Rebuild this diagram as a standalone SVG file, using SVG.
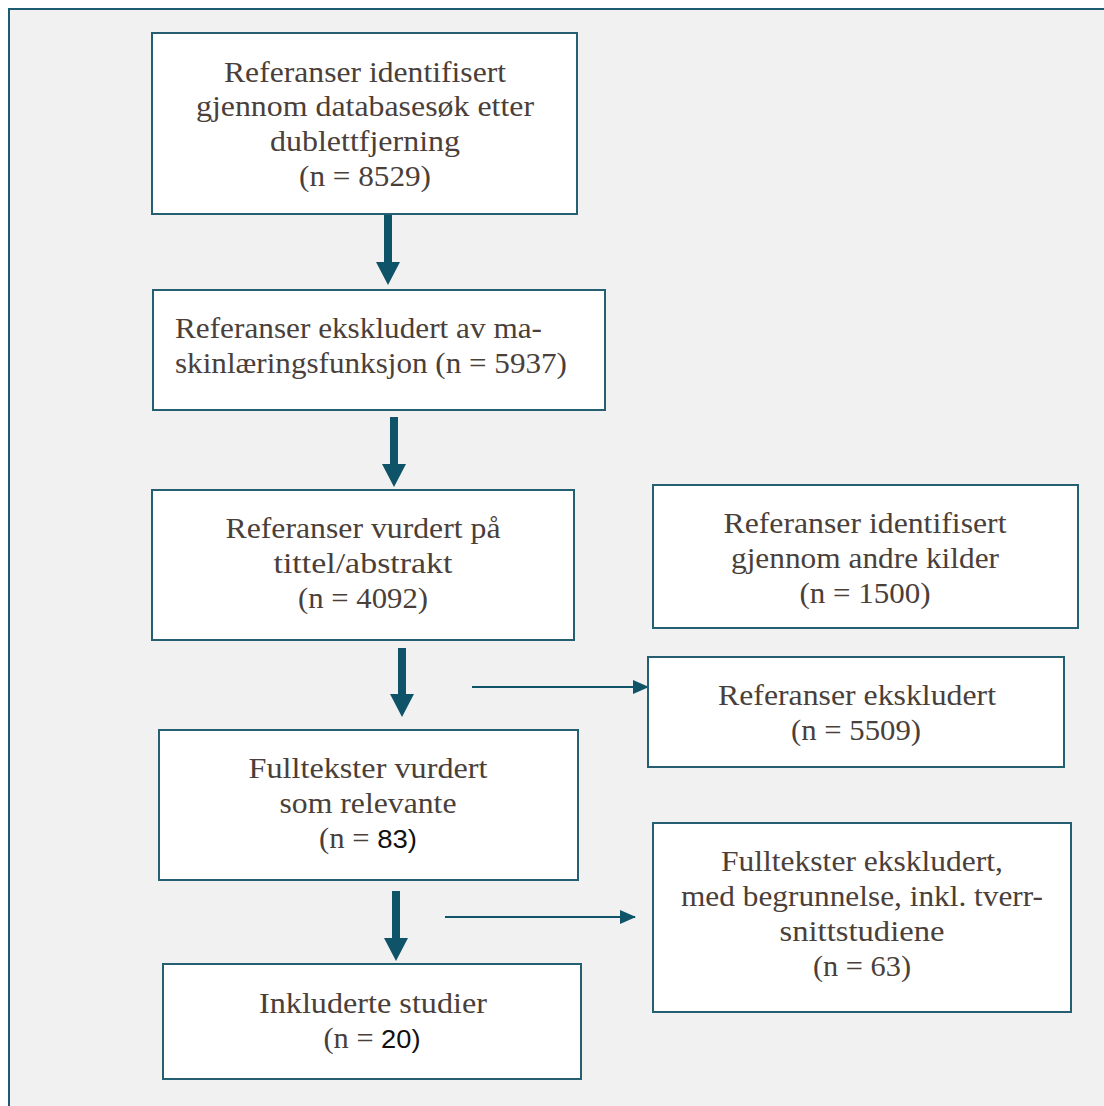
<svg xmlns="http://www.w3.org/2000/svg" width="1104" height="1106" viewBox="0 0 1104 1106">
<defs>
<style>
.box{fill:#ffffff;stroke:#255f72;stroke-width:2}
.t{font-family:"Liberation Serif","DejaVu Serif",serif;font-size:29px;fill:#4a3f3a;text-anchor:middle}
.s{font-family:"Liberation Sans","Open Sans",sans-serif;font-size:26px;fill:#111111}
.thick{fill:#0f5369}
.thin{stroke:#0f5369;stroke-width:2;fill:none}
</style>
<marker id="ah" markerWidth="16" markerHeight="14" refX="15" refY="7" orient="auto" markerUnits="userSpaceOnUse" viewBox="0 0 16 14">
<path d="M0,0 L16,7 L0,14 Z" fill="#0f5369"/>
</marker>
</defs>
<rect x="0" y="0" width="1104" height="1106" fill="#ffffff"/>
<rect x="9" y="9" width="1110" height="1110" fill="#f1f1f1" stroke="#1d5c70" stroke-width="2"/>

<g id="connectors">
<path class="thick" d="M384,215 H392 V262 H400 L388,285 L376,262 H384 Z"/>
<path class="thick" d="M390,417 H398 V464 H406 L394,487 L382,464 H390 Z"/>
<path class="thick" d="M398,648 H406 V694 H414 L402,717 L390,694 H398 Z"/>
<path class="thick" d="M392,891 H400 V938 H408 L396,961 L384,938 H392 Z"/>
<line class="thin" x1="472" y1="687" x2="648" y2="687" marker-end="url(#ah)"/>
<line class="thin" x1="445" y1="917" x2="635" y2="917" marker-end="url(#ah)"/>
</g>

<g id="n1">
<rect class="box" x="152" y="33" width="425" height="181"/>
<text class="t" x="365" y="82" textLength="282" lengthAdjust="spacingAndGlyphs">Referanser identifisert</text>
<text class="t" x="365" y="116" textLength="338" lengthAdjust="spacingAndGlyphs">gjennom databasesøk etter</text>
<text class="t" x="365" y="151" textLength="190" lengthAdjust="spacingAndGlyphs">dublettfjerning</text>
<text class="t" x="365" y="186" textLength="132" lengthAdjust="spacingAndGlyphs">(n = 8529)</text>
</g>

<g id="n2">
<rect class="box" x="153" y="290" width="452" height="120"/>
<text class="t" x="175" y="338" style="text-anchor:start" textLength="367" lengthAdjust="spacingAndGlyphs">Referanser ekskludert av ma-</text>
<text class="t" x="175" y="373" style="text-anchor:start" textLength="392" lengthAdjust="spacingAndGlyphs">skinlæringsfunksjon (n = 5937)</text>
</g>

<g id="n3">
<rect class="box" x="152" y="490" width="422" height="150"/>
<text class="t" x="363" y="538" textLength="275" lengthAdjust="spacingAndGlyphs">Referanser vurdert på</text>
<text class="t" x="363" y="573" textLength="179" lengthAdjust="spacingAndGlyphs">tittel/abstrakt</text>
<text class="t" x="363" y="608" textLength="130" lengthAdjust="spacingAndGlyphs">(n = 4092)</text>
</g>

<g id="n4">
<rect class="box" x="653" y="485" width="425" height="143"/>
<text class="t" x="865" y="533" textLength="283" lengthAdjust="spacingAndGlyphs">Referanser identifisert</text>
<text class="t" x="865" y="568" textLength="268" lengthAdjust="spacingAndGlyphs">gjennom andre kilder</text>
<text class="t" x="865" y="603" textLength="131" lengthAdjust="spacingAndGlyphs">(n = 1500)</text>
</g>

<g id="n5">
<rect class="box" x="648" y="657" width="416" height="110"/>
<text class="t" x="857" y="705" textLength="278" lengthAdjust="spacingAndGlyphs">Referanser ekskludert</text>
<text class="t" x="856" y="740" textLength="130" lengthAdjust="spacingAndGlyphs">(n = 5509)</text>
</g>

<g id="n6">
<rect class="box" x="159" y="730" width="419" height="150"/>
<text class="t" x="368" y="778" textLength="239" lengthAdjust="spacingAndGlyphs">Fulltekster vurdert</text>
<text class="t" x="368" y="813" textLength="177" lengthAdjust="spacingAndGlyphs">som relevante</text>
<text class="t" x="368" y="848" textLength="98" lengthAdjust="spacingAndGlyphs">(n = <tspan class="s">83)</tspan></text>
</g>

<g id="n7">
<rect class="box" x="653" y="823" width="418" height="189"/>
<text class="t" x="862" y="871" textLength="282" lengthAdjust="spacingAndGlyphs">Fulltekster ekskludert,</text>
<text class="t" x="862" y="906" textLength="362" lengthAdjust="spacingAndGlyphs">med begrunnelse, inkl. tverr-</text>
<text class="t" x="862" y="941" textLength="165" lengthAdjust="spacingAndGlyphs">snittstudiene</text>
<text class="t" x="862" y="976" textLength="98" lengthAdjust="spacingAndGlyphs">(n = 63)</text>
</g>

<g id="n8">
<rect class="box" x="163" y="964" width="418" height="115"/>
<text class="t" x="373" y="1013" textLength="228" lengthAdjust="spacingAndGlyphs">Inkluderte studier</text>
<text class="t" x="372" y="1048" textLength="97" lengthAdjust="spacingAndGlyphs">(n = <tspan class="s">20)</tspan></text>
</g>
</svg>
